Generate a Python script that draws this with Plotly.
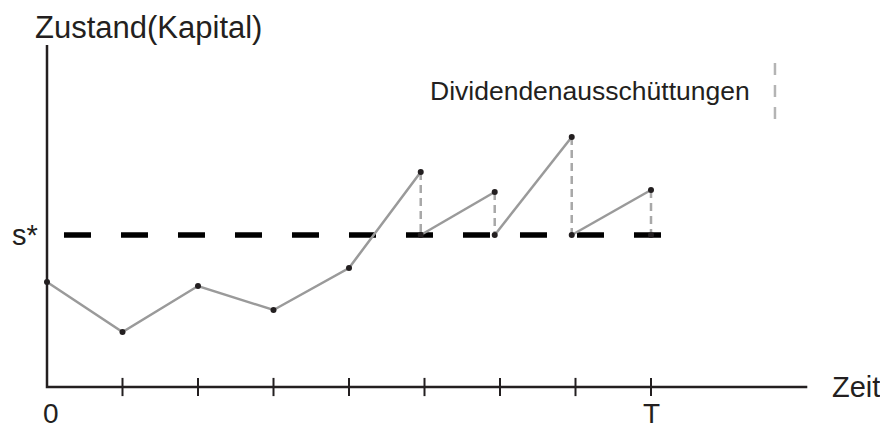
import plotly.graph_objects as go

# ---- data (time units, capital units) ----
tick_times = [1, 2, 3, 4, 5, 6, 7, 8]
path_times = [0, 1, 2, 3, 4, 4.95]
path_values = [10.5, 5.5, 10.1, 7.7, 11.9, 21.5]
s_star = 15.2
jump_times = [4.95, 5.93, 6.95, 8.0]
peak_values = [21.5, 19.5, 25.0, 19.7]
t_end = 8.15
axis_x_end = 10.07
axis_y_end = 34.2

INK = "#231f20"
GRAY = "#9a9a9a"
DGRAY = "#a8a8a8"
FONT = "Liberation Sans, Arial, Helvetica, sans-serif"

W, H = 880, 422          # page body has an 8px margin
X0, PX_PER_T = 39, 75.5  # pixel of t=0 inside the figure
Y0, PX_PER_V = 379, 10.0

fig = go.Figure()

# axes lines
fig.add_trace(go.Scatter(x=[0, 0, axis_x_end], y=[axis_y_end, 0, 0], mode="lines",
                         line=dict(color=INK, width=2.5), hoverinfo="skip"))
# ticks
fig.add_trace(go.Scatter(x=tick_times, y=[0] * len(tick_times), mode="markers",
                         marker=dict(symbol="line-ns", size=13,
                                     line=dict(color=INK, width=2)), hoverinfo="skip"))
# s* threshold
fig.add_trace(go.Scatter(x=[0.225, t_end], y=[s_star, s_star], mode="lines",
                         line=dict(color="black", width=5.5, dash="27px,30px"), hoverinfo="skip"))

# dividend jumps (dashed gray verticals)
for t, p in zip(jump_times, peak_values):
    fig.add_trace(go.Scatter(x=[t, t], y=[p, s_star], mode="lines",
                             line=dict(color=DGRAY, width=2.5, dash="8px,5px"), hoverinfo="skip"))

# capital path segments
fig.add_trace(go.Scatter(x=path_times, y=path_values, mode="lines",
                         line=dict(color=GRAY, width=2.5), hoverinfo="skip"))
for i in range(len(jump_times) - 1):
    fig.add_trace(go.Scatter(x=[jump_times[i], jump_times[i + 1]],
                             y=[s_star, peak_values[i + 1]], mode="lines",
                             line=dict(color=GRAY, width=2.5), hoverinfo="skip"))

# points
pts_x = path_times + jump_times + jump_times[1:]
pts_y = path_values + [s_star] * len(jump_times) + peak_values[1:]
fig.add_trace(go.Scatter(x=pts_x, y=pts_y, mode="markers",
                         marker=dict(color=INK, size=6), hoverinfo="skip"))

# legend marker
fig.add_trace(go.Scatter(x=[9.642, 9.642], y=[32.4, 26.7], mode="lines",
                         line=dict(color="#b4b4b4", width=2.5, dash="12px,10px"), hoverinfo="skip"))

ann = [
    dict(x=-0.185, y=36.0, text="Zustand(Kapital)", xanchor="left", yanchor="middle", size=31),
    dict(x=10.37, y=0.0, text="Zeit", xanchor="left", yanchor="middle", size=29),
    dict(x=-0.29, y=s_star, text="s*", xanchor="center", yanchor="middle", size=29),
    dict(x=0.05, y=-2.6, text="0", xanchor="center", yanchor="middle", size=28),
    dict(x=8.0, y=-2.65, text="T", xanchor="center", yanchor="middle", size=28),
    dict(x=9.338, y=29.6, text="Dividendenausschüttungen", xanchor="right", yanchor="middle", size=26.5),
]
fig.update_layout(annotations=[
    dict(x=a["x"], y=a["y"], text=a["text"], xref="x", yref="y", showarrow=False,
         xanchor=a["xanchor"], yanchor=a["yanchor"],
         font=dict(family=FONT, size=a["size"], color=INK)) for a in ann])

fig.update_layout(
    width=W, height=H,
    margin=dict(l=0, r=0, t=0, b=0),
    paper_bgcolor="white", plot_bgcolor="white",
    showlegend=False,
    xaxis=dict(range=[-X0 / PX_PER_T, (W - X0) / PX_PER_T], visible=False, fixedrange=True),
    yaxis=dict(range=[(Y0 - H) / PX_PER_V, Y0 / PX_PER_V], visible=False, fixedrange=True),
)

fig.write_html("out.html")
